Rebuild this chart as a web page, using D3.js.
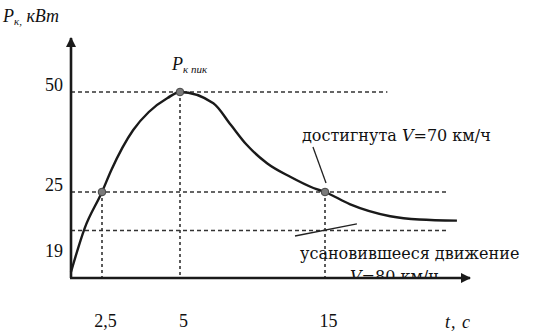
<!DOCTYPE html>
<html>
<head>
<meta charset="utf-8">
<script src="https://cdn.jsdelivr.net/npm/d3@7"></script>
<style>
  body { margin: 0; background: #fff; }
  svg text { font-family: "Liberation Serif", "Times New Roman", "DejaVu Serif", serif; }
  svg text.cyr { font-family: "DejaVu Serif", "Liberation Serif", serif; }
  .axis text { font-size: 18px; fill: #111; }
</style>
</head>
<body>
<div id="chart"></div>
<script>
// Data: time, s and traction power, kW
const timeVals = [0, 1.1, 2.5, 2.8, 3.5, 4.0, 4.6, 5, 7.3, 8.5, 9.6, 11.0, 12.6, 14.2, 15, 16.7, 19.5, 21.5, 24.1];
const powerVals = [5.7, 21.7, 25, 30.5, 40.5, 45, 48.5, 50, 47.2, 41.8, 36.8, 32.2, 28.8, 26, 25, 23.9, 22.8, 22.5, 22.4];

// marked points on the curve
const markT = [2.5, 5, 15];
const markP = [25, 50, 25];

const yTicks = [19, 25, 50];
const xTicks = [2.5, 5, 15];
const steadyP = 21.5;

// Constants
const width = 539;
const height = 335;
const serif = '"Liberation Serif", "Times New Roman", "DejaVu Serif", serif';
const ink = "#111";

const svg = d3
  .select("#chart")
  .append("svg")
  .attr("width", width)
  .attr("height", height)
  .attr("font-family", serif);

//-----------------------------SCALES-----------------------------//
// schematic drawing, so the scales are piecewise
const xScale = d3.scaleLinear().domain([0, 2.5, 5, 15]).range([71, 102, 180, 325]);
const yScale = d3.scaleLinear().domain([0, 19, 25, 50]).range([278, 258, 192, 92]);

const xMax = 25;
const yMax = 63.5;

//-----------------------------AXES-----------------------------//
const yaxis = d3
  .axisLeft(yScale)
  .tickValues(yTicks)
  .tickSize(0)
  .tickPadding(8);

const xaxis = d3
  .axisBottom(xScale)
  .tickValues(xTicks)
  .tickSize(0)
  .tickPadding(36)
  .tickFormat(function (d) {
    return String(d).replace(".", ",");
  });

const gy = svg.append("g").attr("class", "axis").attr("transform", `translate(${xScale(0)},0)`).call(yaxis);
gy.attr("font-family", serif).attr("font-size", 18);
gy.select(".domain").remove();
gy.selectAll("text").attr("transform", "translate(0,-7)");

const gx = svg.append("g").attr("class", "axis").attr("transform", `translate(0,${yScale(0)})`).call(xaxis);
gx.attr("font-family", serif).attr("font-size", 18);
gx.select(".domain").remove();
gx.selectAll("text").attr("dx", 3);

//-------------------------DASHED GUIDES-------------------------//
const dash = "4,3";
const guideColor = "#333";

function hLine(p, tEnd) {
  svg.append("line")
    .attr("x1", xScale(0)).attr("x2", xScale(tEnd))
    .attr("y1", yScale(p)).attr("y2", yScale(p))
    .attr("stroke", guideColor).attr("stroke-width", 1.6)
    .attr("stroke-dasharray", dash);
}
function vLine(t, p) {
  svg.append("line")
    .attr("x1", xScale(t)).attr("x2", xScale(t))
    .attr("y1", yScale(p)).attr("y2", yScale(0))
    .attr("stroke", guideColor).attr("stroke-width", 1.6)
    .attr("stroke-dasharray", "3,3");
}
hLine(50, 19.3);
hLine(25, 23.4);
hLine(steadyP, 23.5);
markT.forEach(function (t, i) { vLine(t, markP[i]); });

//-----------------------------AXIS LINES-------------------------//
svg.append("defs").append("marker")
  .attr("id", "arrow")
  .attr("viewBox", "0 0 10 10")
  .attr("refX", 9).attr("refY", 5)
  .attr("markerWidth", 4).attr("markerHeight", 4)
  .attr("orient", "auto")
  .append("path")
  .attr("d", "M0,0 L10,5 L0,10 z")
  .attr("fill", "#1a1a1a");

// clip for the label that sits under the x axis
svg.select("defs").append("clipPath").attr("id", "clipAbove")
  .append("rect").attr("x", 0).attr("y", 0).attr("width", width).attr("height", yScale(0) - 1);

svg.append("text")
  .attr("class", "cyr")
  .attr("x", 350).attr("y", 282)
  .attr("clip-path", "url(#clipAbove)")
  .style("font-size", "16px").style("fill", ink)
  .call(function (t) {
    t.append("tspan").style("font-style", "italic").text("V");
    t.append("tspan").text("=80 км/ч");
  });

svg.append("line")
  .attr("x1", xScale(0)).attr("y1", yScale(0))
  .attr("x2", xScale(0)).attr("y2", yScale(yMax))
  .attr("stroke", "#1a1a1a").attr("stroke-width", 2.6)
  .attr("marker-end", "url(#arrow)");

svg.append("line")
  .attr("x1", xScale(0) - 1).attr("y1", yScale(0))
  .attr("x2", xScale(xMax)).attr("y2", yScale(0))
  .attr("stroke", "#1a1a1a").attr("stroke-width", 2.6)
  .attr("marker-end", "url(#arrow)");

//-----------------------------CURVE-----------------------------//
const curveData = timeVals.map(function (t, i) {
  return { t: t, p: powerVals[i] };
});

const line = d3
  .line()
  .x(function (d) { return xScale(d.t); })
  .y(function (d) { return yScale(d.p); })
  .curve(d3.curveMonotoneX);

svg.append("path")
  .datum(curveData)
  .attr("d", line)
  .attr("fill", "none")
  .attr("stroke", "#1a1a1a")
  .attr("stroke-width", 2.4);

// points
svg.selectAll(".point")
  .data(markT)
  .enter()
  .append("circle")
  .attr("class", "point")
  .attr("cx", function (d) { return xScale(d); })
  .attr("cy", function (d, i) { return yScale(markP[i]); })
  .attr("r", 3.8)
  .attr("fill", "#7a7a7a")
  .attr("stroke", "#444")
  .attr("stroke-width", 1);

//--------------------------ANNOTATIONS--------------------------//
const leaderT1 = [14.17, 15.07];
const leaderP1 = [36.25, 27.25];
const leaderT2 = [12.93, 17.2];
const leaderP2 = [21.0, 22.1];

[[leaderT1, leaderP1], [leaderT2, leaderP2]].forEach(function (l) {
  svg.append("line")
    .attr("x1", xScale(l[0][0])).attr("y1", yScale(l[1][0]))
    .attr("x2", xScale(l[0][1])).attr("y2", yScale(l[1][1]))
    .attr("stroke", "#222").attr("stroke-width", 1.3);
});

svg.append("text")
  .attr("class", "cyr")
  .attr("x", 302).attr("y", 141)
  .style("font-size", "16px").style("fill", ink)
  .call(function (t) {
    t.append("tspan").text("достигнута ");
    t.append("tspan").style("font-style", "italic").text("V");
    t.append("tspan").text("=70 км/ч");
  });

svg.append("text")
  .attr("class", "cyr")
  .attr("x", 300).attr("y", 259)
  .style("font-size", "16px").style("fill", ink)
  .text("усановившееся движение");

// peak label
svg.append("text")
  .attr("x", 172).attr("y", 70)
  .style("fill", ink)
  .call(function (t) {
    t.append("tspan").style("font-size", "18px").style("font-style", "italic").text("P");
    t.append("tspan").attr("dy", 3).style("font-size", "11px").style("font-style", "italic").text("к пик");
  });

// axis titles
svg.append("text")
  .attr("x", 3).attr("y", 22)
  .style("fill", ink).style("font-style", "italic")
  .call(function (t) {
    t.append("tspan").style("font-size", "18px").text("P");
    t.append("tspan").attr("dy", 3).style("font-size", "11px").text("к,");
    t.append("tspan").attr("dy", -3).style("font-size", "18px").text(" кВт");
  });

svg.append("text")
  .attr("x", 445).attr("y", 328)
  .style("fill", ink).style("font-style", "italic").style("font-size", "18px")
  .style("letter-spacing", "1px")
  .text("t, c");
</script>
</body>
</html>
